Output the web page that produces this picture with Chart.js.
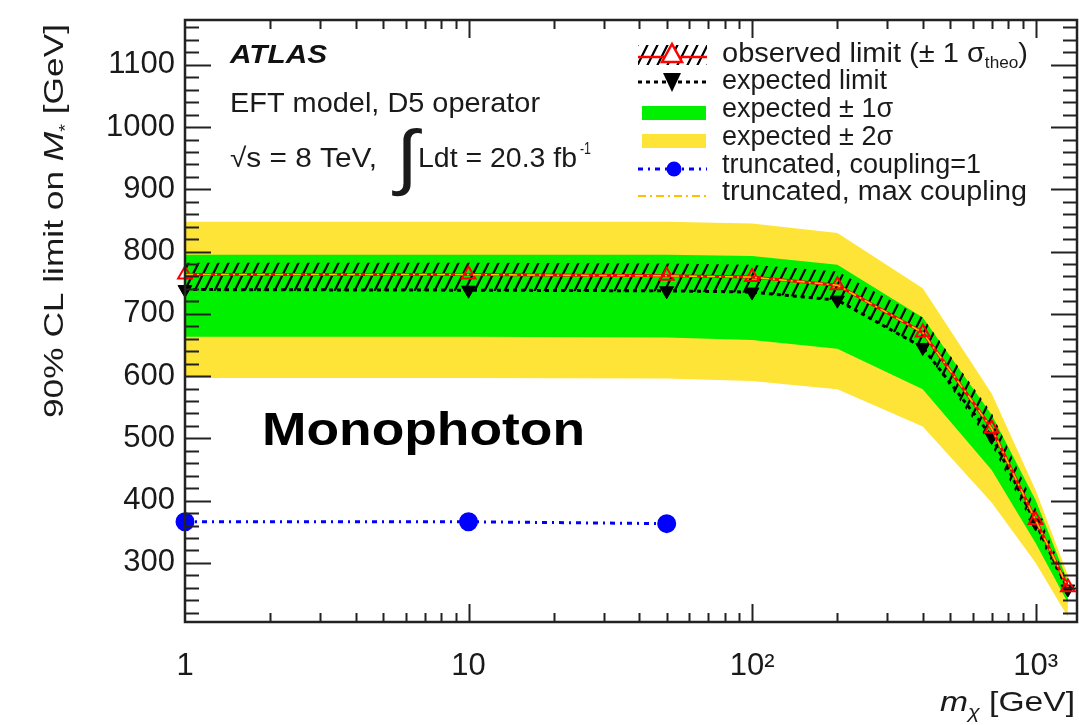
<!DOCTYPE html>
<html>
<head>
<meta charset="utf-8">
<script src="https://cdn.jsdelivr.net/npm/chart.js@4.4.1/dist/chart.umd.min.js"></script>
<style>
  html, body { margin: 0; padding: 0; background: #ffffff; }
  #wrap { width: 1079px; height: 725px; }
</style>
</head>
<body>
<div id="wrap"><canvas id="c" width="1079" height="725"></canvas></div>
<script>
// Dark-matter mass points [GeV]
const massPoints = [1, 10, 50, 100, 200, 400, 700, 1000, 1300];
// 90% CL lower limits on the suppression scale M* [GeV]
const observedLimit    = [763, 763, 761, 759, 746, 670, 516, 369, 261];
const observedTheoUp   = [782, 782, 781, 779, 768, 694, 541, 388, 268];
const observedTheoDown = [737, 737, 736, 734, 722, 645, 489, 352, 252];
const expectedLimit    = [739, 738, 737, 735, 722, 646, 503, 364, 258];
const expectedPlus1    = [795, 795, 795, 793, 779, 694, 538, 401, 270];
const expectedMinus1   = [663, 663, 662, 658, 644, 579, 449, 332, 236];
const expectedPlus2    = [848, 848, 848, 845, 830, 741, 572, 417, 280];
const expectedMinus2   = [597, 597, 596, 592, 579, 519, 397, 300, 213];
// Truncated limits
const truncMass        = [1, 10, 50];
const truncCoupling1   = [366, 366, 363];
const truncMaxCoupling = [763, 763, 761, 759, 746, 670, 516, 369, 261];
// Axis ticks
const xTickValues = [1, 10, 100, 1000];
const xTickLabels = ['1', '10', '10\u00B2', '10\u00B3'];
const yTickValues = [300, 400, 500, 600, 700, 800, 900, 1000, 1100];

const FONT = '"Liberation Sans", Arial, Helvetica, sans-serif';
const TEXT = '#1a1a1a';
const GREEN = '#00f000';
const YELLOW = '#fde436';

const pts = (xs, ys) => xs.map((x, i) => ({ x: x, y: ys[i] }));

const canvas = document.getElementById('c');
const ctx0 = canvas.getContext('2d');

// diagonal "///" hatch for the theory band
const hatch = (() => {
  const t = document.createElement('canvas');
  t.width = 10; t.height = 20;
  const g = t.getContext('2d');
  g.strokeStyle = '#000';
  g.lineWidth = 2.2;
  g.beginPath();
  g.moveTo(-1, 22); g.lineTo(11, -2);
  g.moveTo(9, 22); g.lineTo(21, -2);
  g.moveTo(-11, 22); g.lineTo(1, -2);
  g.stroke();
  return ctx0.createPattern(t, 'repeat');
})();

function drawRich(ctx, segs, x, y, align, targetW) {
  ctx.save();
  let total = 0;
  for (const s of segs) {
    ctx.font = s.font;
    s.w = ctx.measureText(s.text).width;
    total += s.w + (s.dx || 0);
  }
  const sx = targetW ? targetW / total : 1;
  const start = align === 'right' ? x - total * sx : align === 'center' ? x - total * sx / 2 : x;
  ctx.translate(start, y);
  ctx.scale(sx, 1);
  ctx.textBaseline = 'alphabetic';
  ctx.textAlign = 'left';
  let cx = 0;
  for (const s of segs) {
    ctx.font = s.font;
    ctx.fillStyle = s.color || TEXT;
    cx += (s.dx || 0);
    ctx.fillText(s.text, cx, s.dy || 0);
    cx += s.w;
  }
  ctx.restore();
}

// inner tick marks and frame, ROOT style
const frameTicks = {
  id: 'frameTicks',
  afterDatasetsDraw(chart) {
    const { ctx, chartArea: a, scales: { x, y } } = chart;
    ctx.save();
    ctx.strokeStyle = '#222';
    ctx.lineWidth = 2;
    ctx.beginPath();
    for (let v = 220; v <= y.max; v += 20) {
      const py = Math.round(y.getPixelForValue(v)) + 0.5;
      const len = v % 100 === 0 ? 26 : 14;
      ctx.moveTo(a.left, py); ctx.lineTo(a.left + len, py);
      ctx.moveTo(a.right, py); ctx.lineTo(a.right - len, py);
    }
    for (let d = 1; d <= 1000; d *= 10) {
      for (let k = 1; k <= 9; k++) {
        const v = d * k;
        if (v <= x.min || v > x.max) continue;
        const px = Math.round(x.getPixelForValue(v)) + 0.5;
        const len = k === 1 ? 18 : 9;
        ctx.moveTo(px, a.bottom); ctx.lineTo(px, a.bottom - len);
        ctx.moveTo(px, a.top); ctx.lineTo(px, a.top + len);
      }
    }
    ctx.stroke();
    ctx.lineWidth = 2.5;
    ctx.strokeRect(a.left, a.top, a.right - a.left, a.bottom - a.top);
    ctx.restore();
  }
};

// titles, annotations and the legend box
const annotations = {
  id: 'annotations',
  afterDraw(chart) {
    const ctx = chart.ctx;
    const R = (px) => px + 'px ' + FONT;
    const I = (px) => 'italic ' + px + 'px ' + FONT;

    // y-axis title
    ctx.save();
    ctx.translate(63, 418);
    ctx.rotate(-Math.PI / 2);
    drawRich(ctx, [
      { text: '90% CL limit on ', font: R(28) },
      { text: 'M', font: I(28) },
      { text: '*', font: R(16), dy: 8 },
      { text: ' [GeV]', font: R(28) }
    ], 0, 0, 'left', 394);
    ctx.restore();

    // x-axis title
    drawRich(ctx, [
      { text: 'm', font: I(28) },
      { text: '\u03C7', font: I(18), dy: 7 },
      { text: ' [GeV]', font: R(28) }
    ], 1075, 711, 'right', 135);

    // experiment label
    drawRich(ctx, [{ text: 'ATLAS', font: 'bold italic 26px ' + FONT, color: '#111' }], 230, 63, 'left', 97);
    drawRich(ctx, [{ text: 'EFT model, D5 operator', font: R(28) }], 230, 112, 'left', 310);
    drawRich(ctx, [{ text: '\u221As = 8 TeV,', font: R(27) }], 230, 167, 'left', 147);
    drawRich(ctx, [{ text: '\u222B', font: R(72) }], 396, 181, 'left', 22);
    drawRich(ctx, [{ text: 'Ldt = 20.3 fb', font: R(27) }], 418, 167, 'left', 159);
    drawRich(ctx, [{ text: '-1', font: R(16) }], 580, 154, 'left', 11);

    // channel label
    drawRich(ctx, [{ text: 'Monophoton', font: 'bold 46px ' + FONT, color: '#000' }], 262, 445, 'left', 323);

    // legend
    const lx0 = 638, lx1 = 707, lxm = 672, tx = 722;
    ctx.save();
    // observed: hatched box, red line, open triangle
    ctx.fillStyle = hatch;
    ctx.fillRect(lx0, 45, lx1 - lx0, 20);
    ctx.strokeStyle = '#ff0000'; ctx.lineWidth = 2.5;
    ctx.beginPath(); ctx.moveTo(lx0, 57); ctx.lineTo(lx1, 57); ctx.stroke();
    ctx.fillStyle = '#ffffff';
    ctx.beginPath(); ctx.moveTo(lxm, 44); ctx.lineTo(lxm + 10, 62); ctx.lineTo(lxm - 10, 62); ctx.closePath();
    ctx.fill(); ctx.stroke();
    // expected: dashed line, filled down triangle
    ctx.strokeStyle = '#000'; ctx.lineWidth = 3; ctx.setLineDash([4, 4]);
    ctx.beginPath(); ctx.moveTo(lx0, 82); ctx.lineTo(lx1, 82); ctx.stroke();
    ctx.setLineDash([]);
    ctx.fillStyle = '#000';
    ctx.beginPath(); ctx.moveTo(lxm - 9, 73); ctx.lineTo(lxm + 9, 73); ctx.lineTo(lxm, 92); ctx.closePath(); ctx.fill();
    // bands
    ctx.fillStyle = GREEN; ctx.fillRect(642, 106, 64, 14);
    ctx.fillStyle = YELLOW; ctx.fillRect(642, 134, 64, 14);
    // truncated coupling = 1
    ctx.strokeStyle = '#0000ff'; ctx.lineWidth = 3; ctx.setLineDash([5, 5, 2, 5]);
    ctx.beginPath(); ctx.moveTo(lx0, 169); ctx.lineTo(lx1, 169); ctx.stroke();
    ctx.setLineDash([]);
    ctx.fillStyle = '#0000ff';
    ctx.beginPath(); ctx.arc(674, 169, 7.5, 0, Math.PI * 2); ctx.fill();
    // truncated max coupling
    ctx.strokeStyle = '#ffc000'; ctx.lineWidth = 2; ctx.setLineDash([8, 4, 2, 4]);
    ctx.beginPath(); ctx.moveTo(lx0, 196); ctx.lineTo(lx1, 196); ctx.stroke();
    ctx.restore();

    const L = R(27);
    drawRich(ctx, [
      { text: 'observed limit (\u00B1 1 \u03C3', font: L },
      { text: 'theo', font: R(16), dy: 6 },
      { text: ')', font: L }
    ], tx, 62, 'left', 306);
    drawRich(ctx, [{ text: 'expected limit', font: L }], tx, 89, 'left', null);
    drawRich(ctx, [{ text: 'expected \u00B1 1\u03C3', font: L }], tx, 117, 'left', null);
    drawRich(ctx, [{ text: 'expected \u00B1 2\u03C3', font: L }], tx, 145, 'left', null);
    drawRich(ctx, [{ text: 'truncated, coupling=1', font: L }], tx, 173, 'left', null);
    drawRich(ctx, [{ text: 'truncated, max coupling', font: L }], tx, 200, 'left', 305);
  }
};

const bandLine = { pointRadius: 0, borderWidth: 0, borderColor: 'rgba(0,0,0,0)', tension: 0 };

new Chart(canvas, {
  type: 'line',
  data: {
    datasets: [
      { // truncated max coupling (coincides with observed)
        data: pts(massPoints, truncMaxCoupling), borderColor: '#ffc000', borderWidth: 1.5,
        borderDash: [8, 4, 2, 4], pointRadius: 0, fill: false, clip: false
      },
      { // truncated, coupling = 1
        data: pts(truncMass, truncCoupling1), borderColor: '#0000ff', borderWidth: 3,
        borderDash: [5, 5, 2, 5], pointRadius: 8, pointStyle: 'circle',
        pointBackgroundColor: '#0000ff', pointBorderColor: '#0000ff', fill: false, clip: false
      },
      { // observed limit
        data: pts(massPoints, observedLimit), borderColor: '#ff0000', borderWidth: 3,
        pointStyle: 'triangle', pointRadius: 8, pointBorderWidth: 2,
        pointBorderColor: '#ff0000', pointBackgroundColor: 'rgba(0,0,0,0)', fill: false, clip: false
      },
      { // expected limit
        data: pts(massPoints, expectedLimit), borderColor: '#000000', borderWidth: 3,
        borderDash: [4, 4], pointStyle: 'triangle', pointRotation: 180, pointRadius: 8,
        pointBorderWidth: 1, pointBorderColor: '#000', pointBackgroundColor: '#000', fill: false, clip: false
      },
      Object.assign({ data: pts(massPoints, observedTheoUp), fill: '+1', backgroundColor: hatch }, bandLine),
      Object.assign({ data: pts(massPoints, observedTheoDown), fill: false }, bandLine),
      Object.assign({ data: pts(massPoints, expectedPlus1), fill: '+1', backgroundColor: GREEN }, bandLine),
      Object.assign({ data: pts(massPoints, expectedMinus1), fill: false }, bandLine),
      Object.assign({ data: pts(massPoints, expectedPlus2), fill: '+1', backgroundColor: YELLOW }, bandLine),
      Object.assign({ data: pts(massPoints, expectedMinus2), fill: false }, bandLine)
    ]
  },
  options: {
    responsive: false,
    animation: false,
    devicePixelRatio: 1,
    events: [],
    layout: { autoPadding: false, padding: { top: 20, right: 2, left: 0, bottom: 0 } },
    plugins: { legend: { display: false }, tooltip: { enabled: false } },
    scales: {
      x: {
        type: 'logarithmic', position: 'bottom', min: 1, max: 1400,
        grid: { display: false, drawTicks: false }, border: { display: false },
        ticks: {
          font: { family: FONT, size: 31 }, color: TEXT, padding: 26,
          maxRotation: 0, autoSkip: false,
          callback: (v) => { const i = xTickValues.indexOf(v); return i >= 0 ? xTickLabels[i] : ''; }
        },
        afterBuildTicks: (s) => { s.ticks = xTickValues.map(v => ({ value: v })); },
        afterFit: (s) => { s.height = 103; s.paddingLeft = 0; s.paddingRight = 0; }
      },
      y: {
        type: 'linear', position: 'left', min: 205, max: 1172,
        grid: { display: false, drawTicks: false }, border: { display: false },
        ticks: { font: { family: FONT, size: 31 }, color: TEXT, padding: 10, callback: (v) => String(v) },
        afterBuildTicks: (s) => { s.ticks = yTickValues.map(v => ({ value: v })); },
        afterFit: (s) => { s.width = 185; s.paddingTop = 0; s.paddingBottom = 0; }
      }
    }
  },
  plugins: [frameTicks, annotations]
});
</script>
</body>
</html>
